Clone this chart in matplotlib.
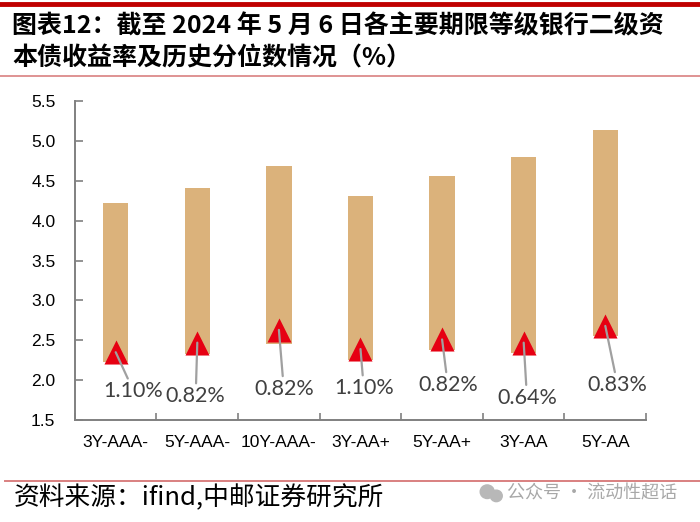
#!/usr/bin/env python3
# -*- coding: utf-8 -*-

"""Bank tier-2 capital bond yields: historical range and current level."""

import matplotlib
matplotlib.use("Agg")
import matplotlib.pyplot as plt
from matplotlib.lines import Line2D
from matplotlib.patches import Ellipse
import numpy as np

# data
categories = ["3Y-AAA-", "5Y-AAA-", "10Y-AAA-", "3Y-AA+", "5Y-AA+", "3Y-AA", "5Y-AA"]
hist_min = [2.23, 2.33, 2.45, 2.25, 2.38, 2.34, 2.55]
hist_max = [4.22, 4.41, 4.69, 4.31, 4.56, 4.80, 5.14]
current = [2.35, 2.47, 2.63, 2.39, 2.51, 2.47, 2.68]
pct_labels = ["1.10%", "0.82%", "0.82%", "1.10%", "0.82%", "0.64%", "0.83%"]
y_ticks = [1.5, 2.0, 2.5, 3.0, 3.5, 4.0, 4.5, 5.0, 5.5]

# where each percentile label sits (x offset from bar, y in data units)
label_dx = [0.22, -0.02, 0.06, 0.04, 0.07, 0.04, 0.15]
label_y = [1.86, 1.80, 1.89, 1.90, 1.94, 1.78, 1.94]

BAR_COLOR = "#DBB27B"
MARK_COLOR = "#E60012"
CJK = ["Noto Sans CJK SC", "DejaVu Sans"]


def main():
    fig = plt.figure(figsize=(7.0, 5.22), dpi=100)
    ax = fig.add_axes([0.107, 0.1954, 0.816, 0.611])

    x = np.arange(len(categories))
    lo = np.array(hist_min)
    hi = np.array(hist_max)
    ax.bar(x, hi - lo, bottom=lo, width=0.31, color=BAR_COLOR, zorder=2)
    ax.scatter(x, current, marker="^", s=300, color=MARK_COLOR,
               linewidths=0, zorder=3)

    for xi, cur, lab, dx, ly in zip(x, current, pct_labels, label_dx, label_y):
        ax.annotate(
            lab, xy=(xi, cur), xytext=(xi + dx, ly), ha="center", va="center",
            fontsize=15.5, family="Lato", color="#404040",
            arrowprops=dict(arrowstyle="-", color="#A0A0A0", lw=1.6,
                            shrinkA=0, shrinkB=0), zorder=4)

    ax.set_xlim(-0.5, len(categories) - 0.5)
    ax.set_ylim(1.5, 5.5)
    ax.set_yticks(y_ticks)
    ax.set_yticklabels(["%.1f" % t for t in y_ticks])

    # category boundaries carry the tick marks, labels sit at the centres
    ax.set_xticks(np.arange(-0.5, len(categories), 1.0))
    ax.set_xticklabels([])
    ax.set_xticks(x, minor=True)
    ax.set_xticklabels(categories, minor=True)
    ax.tick_params(axis="x", which="major", direction="in", length=5,
                   width=1.2, color="#808080")
    ax.tick_params(axis="x", which="minor", length=0, pad=11, labelsize=12.5)
    ax.tick_params(axis="y", direction="in", length=6, width=1.2,
                   color="#808080", pad=14, labelsize=12.5)
    for t in ax.get_yticklabels() + ax.get_xticklabels(minor=True):
        t.set_family("Liberation Sans")

    for side in ("top", "right"):
        ax.spines[side].set_visible(False)
    for side in ("left", "bottom"):
        ax.spines[side].set_color("#808080")
        ax.spines[side].set_linewidth(1.4)

    # header and footer
    fig.text(0.017, 0.950, "图表12：截至 2024 年 5 月 6 日各主要期限等级银行二级资",
             family=CJK, fontsize=18, fontweight="bold", va="center")
    fig.text(0.017, 0.888, "本债收益率及历史分位数情况（%）",
             family=CJK, fontsize=18, fontweight="bold", va="center")
    fig.text(0.020, 0.046, "资料来源：ifind,中邮证券研究所",
             family=CJK, fontsize=18.5, va="center")
    fig.text(0.724, 0.054, "公众号 · 流动性超话",
             family=CJK, fontsize=13, color="#A8A8A8", va="center")
    fig.patches.append(Ellipse((0.696, 0.058), 0.020, 0.026,
                               transform=fig.transFigure, color="#B8B8B8"))
    fig.patches.append(Ellipse((0.709, 0.050), 0.017, 0.022,
                               transform=fig.transFigure, color="#B8B8B8"))

    fig.lines.append(Line2D([0, 1], [0.993, 0.993], transform=fig.transFigure,
                            color="#C00000", lw=3.5))
    fig.lines.append(Line2D([0, 1], [0.854, 0.854], transform=fig.transFigure,
                            color="#D98080", lw=1.2))
    fig.lines.append(Line2D([0.007, 1], [0.079, 0.079],
                            transform=fig.transFigure, color="#D98080",
                            lw=1.4))

    fig.savefig("out.png", dpi=100)


if __name__ == "__main__":
    main()
